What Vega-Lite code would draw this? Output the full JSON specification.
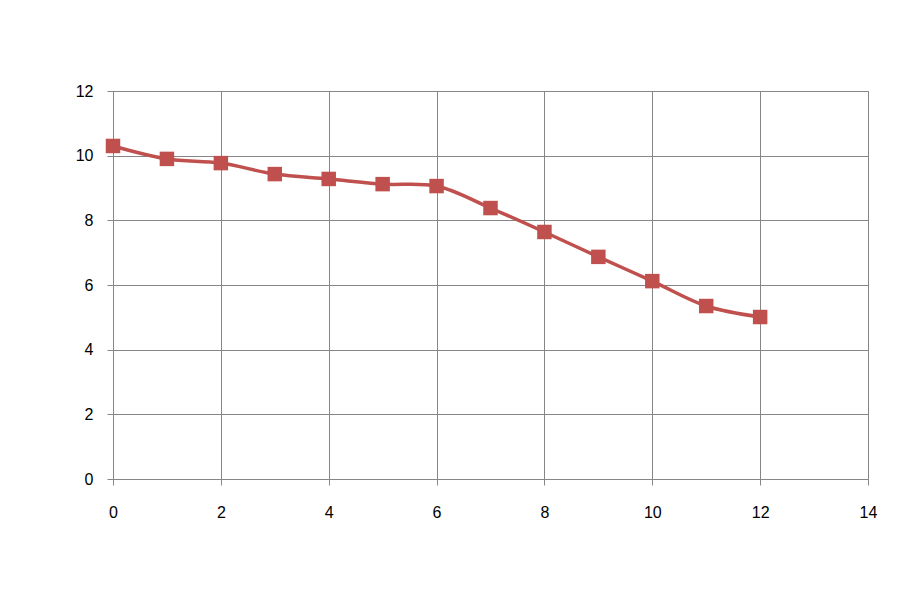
{
  "$schema": "https://vega.github.io/schema/vega-lite/v6.json",
  "width": 755,
  "height": 388,
  "autosize": {"type": "none"},
  "padding": {"left": 113, "top": 91, "right": 35, "bottom": 114},
  "background": "white",
  "config": {
    "view": {"stroke": "#868686", "strokeWidth": 1},
    "axis": {
      "gridColor": "#868686",
      "gridOpacity": 1,
      "gridWidth": 1,
      "domainColor": "#868686",
      "ticks": true,
      "tickSize": 6,
      "tickColor": "#868686",
      "labelFont": "Liberation Sans",
      "labelFontSize": 16,
      "labelColor": "#000000",
      "labelFlush": false,
      "title": null
    }
  },
  "data": {
    "values": [
      {"x": 0, "y": 10.30},
      {"x": 1, "y": 9.90},
      {"x": 2, "y": 9.77},
      {"x": 3, "y": 9.43},
      {"x": 4, "y": 9.28},
      {"x": 5, "y": 9.12},
      {"x": 6, "y": 9.06},
      {"x": 7, "y": 8.38},
      {"x": 8, "y": 7.64},
      {"x": 9, "y": 6.87},
      {"x": 10, "y": 6.12},
      {"x": 11, "y": 5.35},
      {"x": 12, "y": 5.01}
    ]
  },
  "encoding": {
    "x": {
      "field": "x",
      "type": "quantitative",
      "scale": {"domain": [0, 14], "nice": false, "zero": true},
      "axis": {"values": [0, 2, 4, 6, 8, 10, 12, 14], "labelPadding": 19, "title": null}
    },
    "y": {
      "field": "y",
      "type": "quantitative",
      "scale": {"domain": [0, 12], "nice": false},
      "axis": {"values": [0, 2, 4, 6, 8, 10, 12], "labelPadding": 14, "title": null}
    }
  },
  "layer": [
    {
      "mark": {"type": "line", "interpolate": "catmull-rom", "color": "#C0504D", "strokeWidth": 3.5}
    },
    {
      "mark": {"type": "point", "shape": "square", "filled": true, "color": "#C0504D", "opacity": 1, "size": 210}
    }
  ]
}
